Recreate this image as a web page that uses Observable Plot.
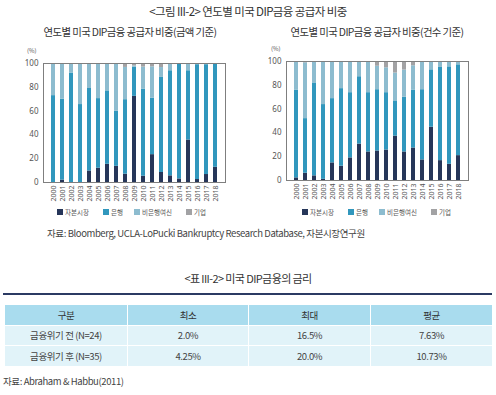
<!DOCTYPE html>
<html><head><meta charset="utf-8">
<script src="https://cdn.jsdelivr.net/npm/d3@7"></script>
<script src="https://cdn.jsdelivr.net/npm/@observablehq/plot@0.6"></script>
<style>
body{margin:0;width:496px;height:395px;background:#fff;font-family:"Noto Sans CJK KR","Noto Sans",sans-serif;color:#333;position:relative;overflow:hidden}
.abs{position:absolute;white-space:nowrap}
.title{font-size:11.5px;letter-spacing:-0.6px;color:#333}
.sub{font-size:10.4px;letter-spacing:-0.6px;color:#333}
.pct{font-size:6px;color:#555}
.sw{position:absolute;width:6px;height:6px}
.lt{position:absolute;font-size:6.5px;color:#555;line-height:8px}
.src{font-size:9.5px;color:#444;letter-spacing:-0.4px}
table{border-collapse:separate;border-spacing:1px;font-size:9.5px;color:#444;letter-spacing:-0.4px}
td{text-align:center;height:19.5px;padding:0}
</style></head><body>
<div class="abs title" style="left:0;width:496px;top:3px;text-align:center">&lt;그림 III-2&gt; 연도별 미국 DIP금융 공급자 비중</div>
<div class="abs sub" style="left:0;width:260px;top:24px;text-align:center">연도별 미국 DIP금융 공급자 비중(금액 기준)</div>
<div class="abs sub" style="left:248px;width:258px;top:24px;text-align:center">연도별 미국 DIP금융 공급자 비중(건수 기준)</div>
<div class="abs pct" style="left:27px;top:46px">(%)</div>
<div class="abs pct" style="left:271px;top:44px">(%)</div>
<div id="c1" class="abs" style="left:0;top:45px"></div>
<div id="c2" class="abs" style="left:248px;top:45px"></div>
<div id="lg1" class="abs" style="left:57px;top:209px"></div>
<div id="lg2" class="abs" style="left:302px;top:209px"></div>
<div class="abs src" style="left:47px;top:226px">자료: Bloomberg, UCLA-LoPucki Bankruptcy Research Database, 자본시장연구원</div>
<div class="abs title" style="left:0;width:496px;top:270px;text-align:center;font-size:11px">&lt;표 III-2&gt; 미국 DIP금융의 금리</div>
<div class="abs" style="left:3px;top:293px;width:489px;height:1.5px;background:#2b3a63"></div>
<div id="tbl" class="abs" style="left:4px;top:304px"></div>
<div class="abs src" style="left:3px;top:374px">자료: Abraham &amp; Habbu(2011)</div>
<script>
const years = ["2000","2001","2002","2003","2004","2005","2006","2007","2008","2009","2010","2011","2012","2013","2014","2015","2016","2017","2018"];
const seriesNames = ["자본시장","은행","비은행여신","기업"];
const seriesColors = ["#263659","#3197bd","#8dbccf","#a2a2a4"];

// 금액 기준 (amount basis), shares in %
const amtCapital = [0,2,0,0,9.7,12,15.3,13.6,7,72.4,5.3,23.4,8.4,5.6,3,35.7,2.5,6.7,12.8];
const amtBank    = [73,68,92,65.5,69.3,58.5,61.7,46.4,62.6,24.6,73.2,47.4,79.9,88.3,96.2,58.2,96.5,92.3,86.6];
const amtNonbank = [27,30,8,34.5,21,29.5,23,40,27.1,1,18.5,26.4,8.3,6.1,0.8,6.1,1,1,0.6];
const amtCorp    = [0,0,0,0,0,0,0,0,3.3,2,3,2.8,3.4,0,0,0,0,0,0];

// 건수 기준 (count basis), shares in %
const cntCapital = [2.2,6.1,3.9,1,14.8,12,19,30.6,24,24.8,25.6,37.3,24,27.3,17.3,44.8,16.7,13.6,20.9];
const cntBank    = [73.8,45.9,78.1,62.8,54,65.2,54.8,56.6,49.8,51.5,48.2,29.6,46,48.7,59,48.2,78.3,81.9,76.3];
const cntNonbank = [24,46.9,18,36.2,31.2,22.8,26.2,12.8,25.6,19.7,20.9,23.4,22.8,20.4,23.7,7,5,4.5,2.8];
const cntCorp    = [0,1.1,0,0,0,0,0,0,0.6,4,5.3,9.7,7.2,3.6,0,0,0,0,0];

const yTicks = [0,20,40,60,80,100];

// table
const tblHeader = ["구분","최소","최대","평균"];
const tblRows = [
  ["금융위기 전 (N=24)","2.0%","16.5%","7.63%"],
  ["금융위기 후 (N=35)","4.25%","20.0%","10.73%"]
];

function tidy(arrs){
  const out=[];
  years.forEach((y,i)=>arrs.forEach((a,k)=>out.push({year:y,series:seriesNames[k],value:a[i],order:k})));
  return out;
}

function chart(data, m){
  return Plot.plot({
    width:248, height:180,
    marginLeft:m.l, marginRight:m.r, marginTop:m.t, marginBottom:m.b,
    style:{fontFamily:"'Noto Sans','Noto Sans CJK KR',sans-serif", color:"#555", background:"transparent"},
    x:{domain:years, paddingInner:0.55, paddingOuter:0.15, label:null},
    y:{domain:[0,100], label:null},
    color:{domain:seriesNames, range:seriesColors},
    marks:[
      Plot.barY(data, Plot.stackY({x:"year", y:"value", fill:"series", order:seriesNames})),
      Plot.frame({stroke:"#7f7f7f", strokeWidth:1}),
      Plot.axisY({ticks:yTicks, tickSize:0, tickPadding:5, fontSize:8, label:null}),
      Plot.axisX({tickRotate:-90, tickSize:0, tickPadding:3, fontSize:7, label:null})
    ]
  });
}

document.getElementById("c1").appendChild(chart(tidy([amtCapital,amtBank,amtNonbank,amtCorp]),{l:43,r:23,t:18,b:43}));
document.getElementById("c2").appendChild(chart(tidy([cntCapital,cntBank,cntNonbank,cntCorp]),{l:38,r:28,t:16,b:45}));

function legend(id){
  const el=document.getElementById(id);
  const offs=[0,46,77,129];
  seriesNames.forEach((n,i)=>{
    const sw=document.createElement("span"); sw.className="sw";
    sw.style.left=offs[i]+"px"; sw.style.top="0px"; sw.style.background=seriesColors[i];
    const t=document.createElement("span"); t.className="lt";
    t.style.left=(offs[i]+8)+"px"; t.style.top="-1px"; t.textContent=n;
    el.appendChild(sw); el.appendChild(t);
  });
}
legend("lg1"); legend("lg2");

const widths=[122,120,121,121];
let html="<table><tr>"+tblHeader.map((h,i)=>`<td style="background:#a9dcee;width:${widths[i]}px;color:#333">${h}</td>`).join("")+"</tr>";
tblRows.forEach(r=>{html+="<tr>"+r.map(c=>`<td style="background:#e1f3f9">${c}</td>`).join("")+"</tr>";});
html+="</table>";
document.getElementById("tbl").innerHTML=html;
</script>
</body></html>
